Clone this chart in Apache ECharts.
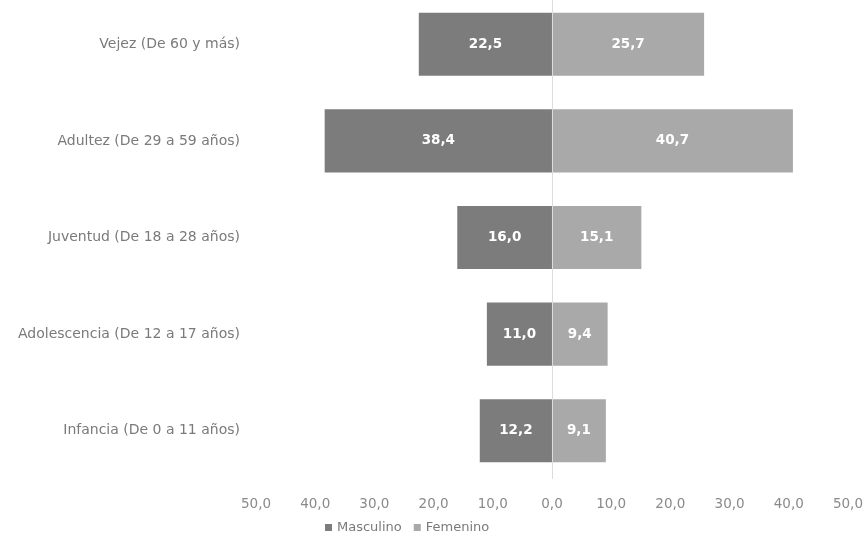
<!DOCTYPE html>
<html><head><meta charset="utf-8">
<script src="https://cdn.jsdelivr.net/npm/echarts@6/dist/echarts.min.js"></script>
<style>html,body{margin:0;padding:0;background:#fff;overflow:hidden}#c{position:absolute;left:0;top:-4px;width:866px;height:553px}</style>
</head><body><div id="c"></div>
<script>
const categories = ["Infancia (De 0 a 11 años)", "Adolescencia (De 12 a 17 años)", "Juventud (De 18 a 28 años)", "Adultez (De 29 a 59 años)", "Vejez (De 60 y más)"];
const masculino = [12.2, 11.0, 16.0, 38.4, 22.5];
const femenino = [9.1, 9.4, 15.1, 40.7, 25.7];
const seriesNames = ["Masculino", "Femenino"];

const fmt = v => Math.abs(v).toFixed(1).replace('.', ',');
const FONT = 'DejaVu Sans';
const chart = echarts.init(document.getElementById('c'), null, {renderer: 'canvas'});
const labelStyle = {show: true, position: 'inside', color: '#fff', fontWeight: 'bold', fontSize: 13.5, fontFamily: FONT, formatter: p => fmt(p.value)};
chart.setOption({
  animation: false,
  textStyle: {fontFamily: FONT},
  grid: {left: 256, right: 18, top: 0, bottom: 70, containLabel: false},
  legend: {
    data: seriesNames, left: 320, top: 520, itemWidth: 7, itemHeight: 7, itemGap: 12,
    icon: 'rect', textStyle: {color: '#7a7a7a', fontSize: 13, fontFamily: FONT}
  },
  xAxis: {
    type: 'value', min: -50, max: 50, interval: 10,
    axisLabel: {formatter: v => fmt(v), color: '#8a8a8a', fontSize: 13.5, margin: 18},
    splitLine: {show: false}, axisLine: {show: false}, axisTick: {show: false}
  },
  yAxis: {
    type: 'category', data: categories,
    axisLine: {show: false}, axisTick: {show: false},
    axisLabel: {color: '#7a7a7a', fontSize: 14, margin: 16}
  },
  series: [
    {name: seriesNames[0], type: 'bar', stack: 't', barCategoryGap: '34.7%',
     data: masculino.map(v => -v), itemStyle: {color: '#7c7c7c'}, label: labelStyle,
     markLine: {silent: true, symbol: 'none', label: {show: false},
       lineStyle: {color: '#dcdcdc', type: 'solid', width: 1}, data: [{xAxis: 0}]}},
    {name: seriesNames[1], type: 'bar', stack: 't', barCategoryGap: '34.7%',
     data: femenino, itemStyle: {color: '#a9a9a9'}, label: labelStyle}
  ]
});
</script></body></html>
